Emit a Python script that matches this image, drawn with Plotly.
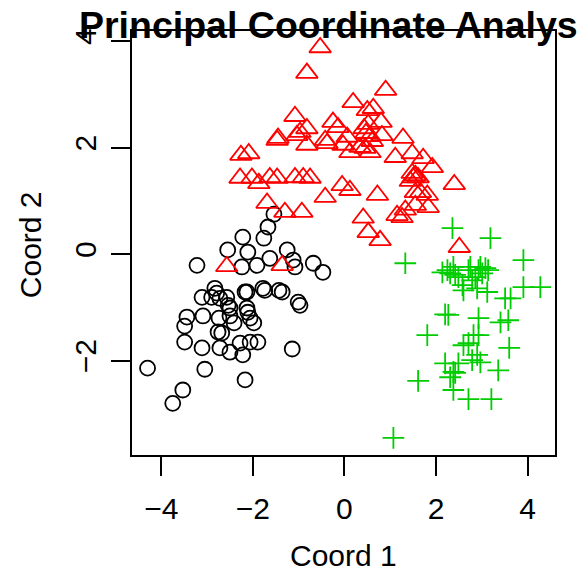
import plotly.graph_objects as go

# Principal coordinate scores, one pair of lists per group
group1_x = [-1.54, -1.67, -1.76, -2.22, -2.55, -2.11, -3.22, -2.24, -1.91, -1.63,
            -1.25, -1.12, -1.08, -0.68, -0.47, -2.83, -2.79, -3.11, -2.90, -2.72,
            -2.57, -2.17, -2.13, -1.78, -1.74, -1.43, -1.36, -1.01, -0.97, -2.54,
            -2.50, -2.13, -2.11, -3.44, -3.49, -3.09, -2.74, -2.50, -2.41, -2.06,
            -1.98, -2.76, -2.68, -3.49, -3.11, -2.72, -2.50, -2.28, -2.06, -1.89,
            -2.22, -4.30, -3.05, -2.17, -3.53, -3.75, -1.14]
group1_y = [0.75, 0.51, 0.30, 0.32, 0.08, 0.04, -0.21, -0.24, -0.21, -0.08,
            0.08, -0.11, -0.24, -0.17, -0.34, -0.64, -0.73, -0.81, -0.81, -0.83,
            -0.81, -0.71, -0.71, -0.64, -0.68, -0.68, -0.71, -0.90, -0.96, -0.96,
            -1.01, -1.01, -1.09, -1.18, -1.35, -1.16, -1.20, -1.16, -1.29, -1.20,
            -1.29, -1.46, -1.48, -1.65, -1.76, -1.76, -1.84, -1.67, -1.65, -1.65,
            -1.89, -2.14, -2.16, -2.36, -2.55, -2.80, -1.78]

group2_x = [-0.53, -0.82, 0.90, 0.19, -1.08, 0.50, 0.63, 0.80, -0.82, -0.97,
            -0.25, -0.14, -1.45, -1.04, -0.82, -0.42, -0.38, 0.06, -0.03, 0.12,
            0.34, 0.45, 0.56, 0.43, 0.47, 0.52, 0.56, 0.61, 0.82, 1.28,
            1.11, 1.48, 1.72, 1.92, 1.48, 1.55, 2.40, 1.50, 1.61, 1.44,
            1.55, 1.66, 1.81, 1.83, 1.55, 1.33, 1.26, 2.51, -1.47, -1.08,
            -0.90, -0.75, -0.05, 0.12, -0.42, 0.72, -1.30, -0.93, 0.41, 0.52,
            0.78, 1.15, -1.69, -1.36, -2.57, -2.28, -2.02, -1.87, -1.63, -1.47,
            -2.26, -2.09]
group2_y = [3.88, 3.40, 3.08, 2.85, 2.59, 2.70, 2.74, 2.48, 2.36, 2.29,
            2.48, 2.38, 2.18, 2.23, 2.05, 2.14, 2.08, 2.20, 2.05, 1.91,
            2.01, 1.99, 1.91, 2.36, 2.27, 2.44, 2.21, 2.12, 2.23, 2.18,
            1.82, 1.89, 1.80, 1.63, 1.52, 1.48, 1.31, 1.44, 1.44, 1.37,
            1.16, 1.16, 1.11, 0.88, 0.92, 0.83, 0.69, 0.13, 1.43, 1.44,
            1.44, 1.43, 1.29, 1.20, 1.07, 1.11, 0.79, 0.79, 0.68, 0.41,
            0.26, 0.73, 0.96, -0.21, -0.23, 1.43, 1.43, 1.33, 1.44, 2.14,
            1.86, 1.89]

group3_x = [2.36, 3.19, 1.33, 3.91, 2.14, 2.25, 2.31, 2.38, 2.42, 2.49,
            2.58, 2.60, 2.71, 2.75, 2.79, 2.86, 2.93, 2.97, 3.01, 3.08,
            3.14, 2.90, 3.12, 3.91, 4.28, 3.51, 3.63, 2.20, 2.27, 2.93,
            3.41, 3.58, 1.81, 2.82, 2.93, 2.60, 2.71, 3.60, 2.20, 2.49,
            2.79, 2.90, 2.97, 2.38, 2.31, 2.42, 3.36, 1.61, 2.38, 2.71,
            3.21, 1.07]
group3_y = [0.49, 0.30, -0.17, -0.11, -0.34, -0.30, -0.36, -0.24, -0.39, -0.43,
            -0.58, -0.68, -0.30, -0.24, -0.49, -0.43, -0.30, -0.24, -0.36, -0.26,
            -0.30, -0.64, -0.71, -0.62, -0.62, -0.83, -0.83, -1.13, -1.14, -1.20,
            -1.28, -1.24, -1.52, -1.52, -1.52, -1.71, -1.67, -1.76, -2.05, -2.05,
            -1.99, -1.89, -2.03, -2.21, -2.31, -2.23, -2.18, -2.38, -2.55, -2.72,
            -2.72, -3.45]

x_ticks = [-4, -2, 0, 2, 4]
y_ticks = [-2, 0, 2, 4]
x_range = [-4.64, 4.60]
y_range = [-3.77, 4.19]

FONT = "Liberation Sans, Arial, sans-serif"

fig = go.Figure()
fig.add_trace(go.Scatter(
    x=group1_x, y=group1_y, mode="markers",
    marker=dict(symbol="circle-open", size=15, color="black",
                line=dict(width=1.8, color="black")),
    showlegend=False))
fig.add_trace(go.Scatter(
    x=group2_x, y=group2_y, mode="markers",
    marker=dict(symbol="triangle-up-open", size=19, color="#FF0000",
                line=dict(width=1.8, color="#FF0000")),
    showlegend=False))
fig.add_trace(go.Scatter(
    x=group3_x, y=group3_y, mode="markers",
    marker=dict(symbol="cross-thin-open", size=15.5, color="#00CD00",
                line=dict(width=1.8, color="#00CD00")),
    showlegend=False))

axis_common = dict(
    showline=True, mirror=True, linecolor="black", linewidth=1.6,
    ticks="outside", ticklen=19, tickwidth=1.6, tickcolor="black",
    showgrid=False, zeroline=False,
    tickfont=dict(family=FONT, size=30, color="black"),
)

fig.update_xaxes(range=x_range, tickvals=x_ticks,
                 ticktext=[str(v).replace("-", "\u2212") for v in x_ticks],
                 ticklabelstandoff=7, **axis_common)
fig.update_yaxes(range=y_range, tickvals=y_ticks,
                 ticktext=[str(v).replace("-", "\u2212") for v in y_ticks],
                 tickangle=-90, ticklabelstandoff=3, **axis_common)

fig.update_layout(
    width=579, height=576,
    margin=dict(l=132, r=24, t=31, b=121, pad=0),
    paper_bgcolor="white", plot_bgcolor="white",
    annotations=[
        dict(text="<b>Principal Coordinate Analysis</b>", xref="paper", yref="paper",
             x=0.5, y=1.014, xanchor="center", yanchor="middle", showarrow=False,
             font=dict(family=FONT, size=37.5, color="black")),
        dict(text="Coord 1", xref="paper", yref="paper",
             x=0.5, y=-0.238, xanchor="center", yanchor="middle", showarrow=False,
             font=dict(family=FONT, size=30, color="black")),
        dict(text="Coord 2", xref="paper", yref="paper",
             x=-0.241, y=0.495, xanchor="center", yanchor="middle", showarrow=False,
             textangle=-90, font=dict(family=FONT, size=30, color="black")),
    ],
)

fig.write_html("out.html")
